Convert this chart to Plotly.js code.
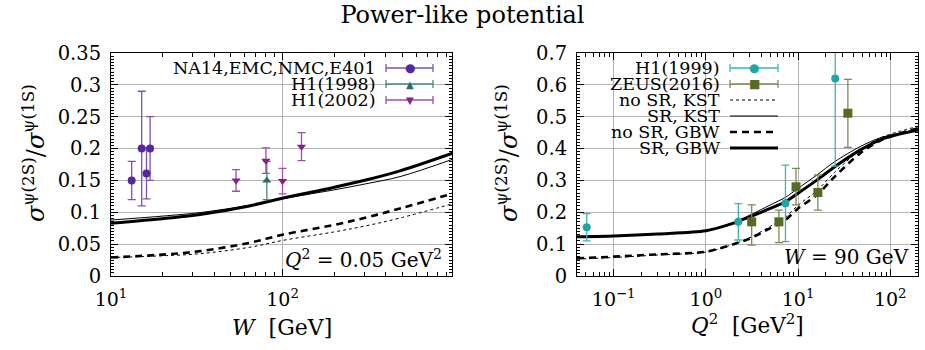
<!DOCTYPE html>
<html><head><meta charset="utf-8">
<script src="https://cdn.plot.ly/plotly-3.0.1.min.js"></script>
<style>body{margin:0;background:#fff}#plot{width:925px;height:350px}</style>
</head><body><div id="plot"></div>
<script>
// ---------- data (left panel: vs W, Q^2 = 0.05 GeV^2) ----------
const W_curve      = [10, 21, 33, 64, 101, 198, 310, 484, 1000];
const noSR_KST_W   = [0.029, 0.032, 0.035, 0.045, 0.056, 0.069, 0.079, 0.091, 0.114];
const SR_KST_W     = [0.0878, 0.0945, 0.0995, 0.111, 0.1215, 0.135, 0.145, 0.156, 0.184];
const noSR_GBW_W   = [0.029, 0.034, 0.039, 0.052, 0.065, 0.080, 0.092, 0.106, 0.130];
const SR_GBW_W     = [0.0826, 0.0905, 0.0965, 0.110, 0.1225, 0.139, 0.151, 0.165, 0.1936];

const fixedT_W     = [13.2, 15.1, 16.1, 16.9];          // NA14,EMC,NMC,E401
const fixedT_val   = [0.150, 0.200, 0.161, 0.200];
const fixedT_err   = [0.030, 0.090, 0.040, 0.050];
const h1_98_W      = [81];
const h1_98_val    = [0.150];
const h1_98_err    = [0.030];
const h1_02_W      = [53.6, 80, 100, 129];
const h1_02_val    = [0.150, 0.181, 0.149, 0.203];
const h1_02_err    = [0.017, 0.020, 0.020, 0.022];

// ---------- data (right panel: vs Q^2, W = 90 GeV) ----------
const Q2_curve     = [0.04, 0.1, 0.3, 1, 2, 3, 5, 7.3, 10, 16, 25, 47, 80, 200];
const noSR_KST_Q   = [0.053, 0.058, 0.066, 0.075, 0.100, 0.120, 0.156, 0.185, 0.222, 0.268, 0.326, 0.395, 0.435, 0.470];
const SR_KST_Q     = [0.124, 0.125, 0.132, 0.143, 0.168, 0.191, 0.223, 0.247, 0.275, 0.317, 0.359, 0.406, 0.435, 0.460];
const noSR_GBW_Q   = [0.0555, 0.0607, 0.068, 0.076, 0.100, 0.118, 0.150, 0.176, 0.212, 0.254, 0.312, 0.385, 0.427, 0.464];
const SR_GBW_Q     = [0.123, 0.1255, 0.132, 0.142, 0.166, 0.186, 0.212, 0.233, 0.260, 0.301, 0.343, 0.395, 0.429, 0.458];

const h1_99_Q2     = [0.051, 2.25, 7.3, 25.3];
const h1_99_val    = [0.153, 0.170, 0.228, 0.620];
const h1_99_err    = [0.043, 0.057, 0.120, 0.275];
const zeus_Q2      = [3.14, 6.2, 9.5, 16.4, 34.7];
const zeus_val     = [0.170, 0.170, 0.280, 0.262, 0.511];
const zeus_errP    = [0.053, 0.037, 0.058, 0.055, 0.106];
const zeus_errM    = [0.073, 0.065, 0.057, 0.055, 0.107];

// ---------- ticks ----------
const yTicksL = [0, 0.05, 0.1, 0.15, 0.2, 0.25, 0.3, 0.35];
const yTextL  = ['0', '0.05', '0.1', '0.15', '0.2', '0.25', '0.3', '0.35'];
const yTicksR = [0, 0.1, 0.2, 0.3, 0.4, 0.5, 0.6, 0.7];
const yTextR  = ['0', '0.1', '0.2', '0.3', '0.4', '0.5', '0.6', '0.7'];
const xTicksL = [10, 100];
const xTextL  = ['10<sup>1</sup>', '10<sup>2</sup>'];
const xTicksR = [0.1, 1, 10, 100];
const xTextR  = ['10<sup>−1</sup>', '10<sup>0</sup>', '10<sup>1</sup>', '10<sup>2</sup>'];
const xMinorL = [20,30,40,50,60,70,80,90,200,300,400,500,600,700,800,900];
const xMinorR = [0.05,0.06,0.07,0.08,0.09,0.2,0.3,0.4,0.5,0.6,0.7,0.8,0.9,2,3,4,5,6,7,8,9,20,30,40,50,60,70,80,90,200];

const FONT = "'DejaVu Serif', 'Liberation Serif', serif";
const W = 925, H = 350;
const px = x => x / W, py = y => 1 - y / H;

const curveStyles = [
  {name: 'no SR, KST', dash: '3px,3px', width: 1},
  {name: 'SR, KST',    dash: 'solid',   width: 1},
  {name: 'no SR, GBW', dash: '7px,5px', width: 2.6},
  {name: 'SR, GBW',    dash: 'solid',   width: 3}
];
const curvesW = [noSR_KST_W, SR_KST_W, noSR_GBW_W, SR_GBW_W];
const curvesQ = [noSR_KST_Q, SR_KST_Q, noSR_GBW_Q, SR_GBW_Q];

const traces = [];
curveStyles.forEach((s, i) => {
  traces.push({x: W_curve, y: curvesW[i], xaxis: 'x', yaxis: 'y', mode: 'lines',
    line: {color: '#000', width: s.width, dash: s.dash, shape: 'spline', smoothing: 1}, showlegend: false, hoverinfo: 'skip'});
  traces.push({x: Q2_curve, y: curvesQ[i], xaxis: 'x2', yaxis: 'y2', mode: 'lines',
    line: {color: '#000', width: s.width, dash: s.dash, shape: 'spline', smoothing: 0.8}, showlegend: false, hoverinfo: 'skip'});
});

function pts(x, y, ep, em, ax, ay, sym, size, col, ecol) {
  return {x: x, y: y, xaxis: ax, yaxis: ay, mode: 'markers', showlegend: false,
    marker: {symbol: sym, size: size, color: col},
    error_y: {type: 'data', symmetric: false, array: ep, arrayminus: em, color: ecol, thickness: 1.3, width: 4}};
}
const C = {
  fixed: ['#56279a', '#7d52b8'],
  h198: ['#2e6a6a', '#4b8585'],
  h102: ['#8a1d8e', '#a04fa8'],
  h199: ['#1ea6a6', '#3db5b5'],
  zeus: ['#566b26', '#7c8a52']
};
traces.push(pts(fixedT_W, fixedT_val, fixedT_err, fixedT_err, 'x', 'y', 'circle', 8, C.fixed[0], C.fixed[1]));
traces.push(pts(h1_98_W, h1_98_val, h1_98_err, h1_98_err, 'x', 'y', 'triangle-up', 8, C.h198[0], C.h198[1]));
traces.push(pts(h1_02_W, h1_02_val, h1_02_err, h1_02_err, 'x', 'y', 'triangle-down', 8, C.h102[0], C.h102[1]));
traces.push(pts(h1_99_Q2, h1_99_val, h1_99_err, h1_99_err, 'x2', 'y2', 'circle', 8, C.h199[0], C.h199[1]));
traces.push(pts(zeus_Q2, zeus_val, zeus_errP, zeus_errM, 'x2', 'y2', 'square', 9, C.zeus[0], C.zeus[1]));

const shapes = [];
const annotations = [];

// opaque key boxes (behind traces, above grid)
shapes.push({type: 'rect', xref: 'paper', yref: 'paper', layer: 'between', x0: px(246), x1: px(452), y0: py(109), y1: py(53), fillcolor: '#fff', line: {width: 0}});
shapes.push({type: 'rect', xref: 'paper', yref: 'paper', layer: 'between', x0: px(577), x1: px(783), y0: py(155), y1: py(53), fillcolor: '#fff', line: {width: 0}});
shapes.push({type: 'rect', xref: 'paper', yref: 'paper', layer: 'between', x0: px(282), x1: px(452), y0: py(276), y1: py(246), fillcolor: '#fff', line: {width: 0}});

function keyText(txt, xr, y) {
  annotations.push({text: txt, xref: 'paper', yref: 'paper', x: px(xr), y: py(y), xanchor: 'right', yanchor: 'middle',
    showarrow: false, borderpad: 0, font: {family: FONT, size: 17.5, color: '#000'}});
}
function keyErr(x0, x1, y, col, ecol, glyph, gsize) {
  shapes.push({type: 'line', xref: 'paper', yref: 'paper', x0: px(x0), x1: px(x1), y0: py(y), y1: py(y), line: {color: ecol, width: 1.3}});
  [x0, x1].forEach(x => shapes.push({type: 'line', xref: 'paper', yref: 'paper', x0: px(x), x1: px(x), y0: py(y - 4), y1: py(y + 4), line: {color: ecol, width: 1.3}}));
  annotations.push({text: glyph, xref: 'paper', yref: 'paper', x: px((x0 + x1) / 2), y: py(y), xanchor: 'center', yanchor: 'middle',
    showarrow: false, borderpad: 0, font: {family: 'DejaVu Sans', size: gsize, color: col}});
}
function keyLine(x0, x1, y, s) {
  shapes.push({type: 'line', xref: 'paper', yref: 'paper', x0: px(x0), x1: px(x1), y0: py(y), y1: py(y), line: {color: '#000', width: s.width, dash: s.dash}});
}

// left key
keyText('NA14,EMC,NMC,E401', 377, 68); keyErr(386, 433, 68, C.fixed[0], C.fixed[1], '●', 12);
keyText('H1(1998)', 377, 84);          keyErr(386, 433, 84, C.h198[0], C.h198[1], '▲', 10);
keyText('H1(2002)', 377, 100);         keyErr(386, 433, 100, C.h102[0], C.h102[1], '▼', 10);
// right key
keyText('H1(1999)', 721, 68);   keyErr(730, 778, 68, C.h199[0], C.h199[1], '●', 12);
keyText('ZEUS(2016)', 721, 84); keyErr(730, 778, 84, C.zeus[0], C.zeus[1], '■', 12);
curveStyles.forEach((s, i) => { keyText(s.name, 721, 100 + 16 * i); keyLine(730, 778, 100 + 16 * i, s); });

// panel labels
annotations.push({text: '<i>Q</i><sup>2</sup> = 0.05 GeV<sup>2</sup>', xref: 'paper', yref: 'paper', x: px(444), y: py(259), xanchor: 'right', yanchor: 'middle', showarrow: false, font: {family: FONT, size: 20, color: '#000'}});
annotations.push({text: '<i>W</i> = 90 GeV', xref: 'paper', yref: 'paper', x: px(911), y: py(257), xanchor: 'right', yanchor: 'middle', showarrow: false, font: {family: FONT, size: 20, color: '#000'}});

// axis titles
annotations.push({text: '<i>W</i>  [GeV]', xref: 'paper', yref: 'paper', x: px(282), y: py(327), xanchor: 'center', yanchor: 'middle', showarrow: false, font: {family: FONT, size: 22, color: '#000'}});
annotations.push({text: '<i>Q</i><sup>2</sup>  [GeV<sup>2</sup>]', xref: 'paper', yref: 'paper', x: px(747), y: py(324), xanchor: 'center', yanchor: 'middle', showarrow: false, font: {family: FONT, size: 21.5, color: '#000'}});
const ytitle = '<i>σ</i><sup>ψ(2S)</sup>/<i>σ</i><sup>ψ(1S)</sup>';
annotations.push({text: ytitle, xref: 'paper', yref: 'paper', x: px(34), y: py(153), xanchor: 'center', yanchor: 'middle', textangle: -90, showarrow: false, font: {family: FONT, size: 24, color: '#000'}});
annotations.push({text: ytitle, xref: 'paper', yref: 'paper', x: px(507), y: py(153), xanchor: 'center', yanchor: 'middle', textangle: -90, showarrow: false, font: {family: FONT, size: 24, color: '#000'}});

const yDom = [1 - 276 / H, 1 - 53 / H];
function xAx(dom, range, tv, tt, minor) {
  return {type: 'log', domain: dom, range: range, tickmode: 'array', tickvals: tv, ticktext: tt,
    ticks: 'inside', ticklen: 7, tickcolor: '#000', showline: true, linecolor: '#000', linewidth: 1, mirror: 'ticks',
    showgrid: true, gridcolor: '#b3b3b3', gridwidth: 1, zeroline: false, ticklabelstandoff: 6,
    tickfont: {family: FONT, size: 19, color: '#000'},
    minor: {tickmode: 'array', tickvals: minor, ticks: 'inside', ticklen: 4, tickcolor: '#000', showgrid: false}};
}
function yAx(dom, range, tv, tt, mdt, anchor) {
  return {domain: dom, range: range, anchor: anchor, tickmode: 'array', tickvals: tv, ticktext: tt,
    ticks: 'inside', ticklen: 7, tickcolor: '#000', showline: true, linecolor: '#000', linewidth: 1, mirror: 'ticks',
    showgrid: true, gridcolor: '#b3b3b3', gridwidth: 1, zeroline: false, ticklabelstandoff: 5,
    tickfont: {family: FONT, size: 19.5, color: '#000'},
    minor: {dtick: mdt, tick0: 0, ticks: 'inside', ticklen: 3, tickcolor: '#000', showgrid: false}};
}

const layout = {
  width: W, height: H, margin: {l: 0, r: 0, t: 0, b: 0},
  paper_bgcolor: '#fff', plot_bgcolor: '#fff', showlegend: false,
  font: {family: FONT, color: '#000'},
  title: {text: 'Power-like potential', x: 0.5, xanchor: 'center', xref: 'paper', y: 1 - 15 / H, yanchor: 'middle', yref: 'container',
    font: {family: FONT, size: 24, color: '#000'}},
  xaxis: Object.assign(xAx([111 / W, 452 / W], [1, 2.988], xTicksL, xTextL, xMinorL), {anchor: 'y'}),
  yaxis: yAx(yDom, [0, 0.35], yTicksL, yTextL, 0.005, 'x'),
  xaxis2: Object.assign(xAx([577 / W, 918 / W], [Math.log10(0.04), Math.log10(200)], xTicksR, xTextR, xMinorR), {anchor: 'y2'}),
  yaxis2: yAx(yDom, [0, 0.7], yTicksR, yTextR, 0.01, 'x2'),
  shapes: shapes, annotations: annotations
};

Plotly.newPlot('plot', traces, layout, {staticPlot: true, displayModeBar: false});
</script>
</body></html>
